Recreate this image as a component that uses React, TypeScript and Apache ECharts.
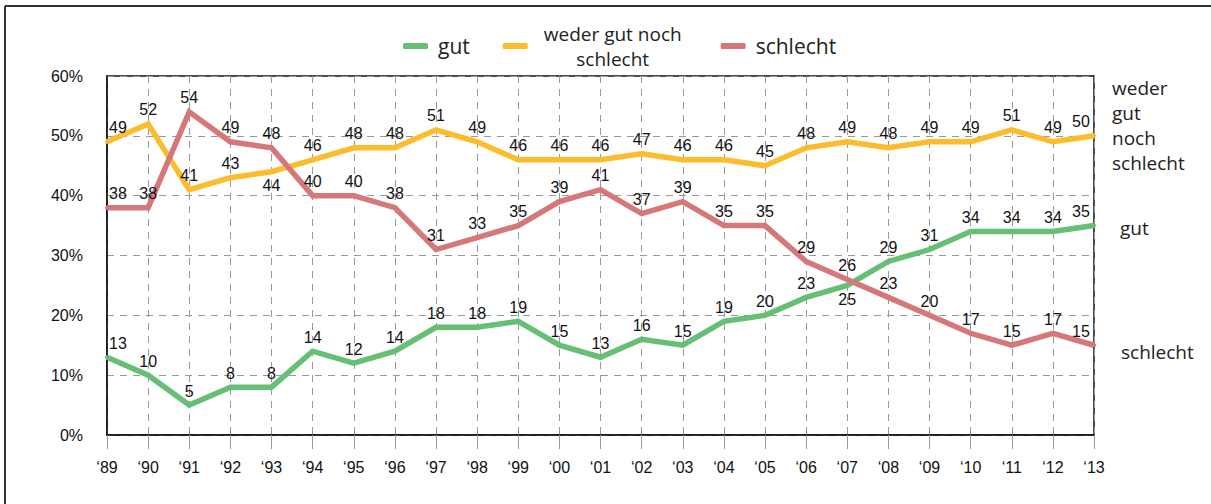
import React, { useEffect, useRef } from "react";
import * as echarts from "echarts";

const years = ["‘89","‘90","‘91","‘92","‘93","‘94","‘95","‘96","‘97","‘98","‘99","‘00","‘01","‘02","‘03","‘04","‘05","‘06","‘07","‘08","‘09","‘10","‘11","‘12","‘13"];
const gut = [13,10,5,8,8,14,12,14,18,18,19,15,13,16,15,19,20,23,25,29,31,34,34,34,35];
const weder = [49,52,41,43,44,46,48,48,51,49,46,46,46,47,46,46,45,48,49,48,49,49,51,49,50];
const schlecht = [38,38,54,49,48,40,40,38,31,33,35,39,41,37,39,35,35,29,26,23,20,17,15,17,15];

const names = ["gut", "weder gut noch schlecht", "schlecht"];
const colors = ["#67bf76", "#fbbd2b", "#d6777a"];

const FONT = "Liberation Sans, Arial, sans-serif";
const SANS = "Open Sans, Noto Sans, sans-serif";

function buildData(values: number[], below: number[]) {
  const last = values.length - 1;
  return values.map((v, i) => {
    const item: any = { value: v };
    const label: any = {};
    if (below.includes(i)) label.position = "bottom";
    if (i === 0) label.offset = [11, 0];
    if (i === last) label.offset = [-13, 0];
    if (Object.keys(label).length) item.label = label;
    return item;
  });
}

export default function App() {
  const ref = useRef<HTMLDivElement>(null);
  useEffect(() => {
    if (!ref.current) return;
    const chart = echarts.init(ref.current, null, { renderer: "svg" });
    const series = [
      { name: names[0], values: gut, below: [18], end: "gut", endOffset: [26, 2] },
      { name: names[1], values: weder, below: [4], end: "weder\ngut\nnoch\nschlecht", endOffset: [18, -10] },
      { name: names[2], values: schlecht, below: [], end: "schlecht", endOffset: [27, 7] },
    ].map((s, idx) => ({
      name: s.name,
      type: "line",
      data: buildData(s.values, s.below),
      color: colors[idx],
      symbol: "circle",
      symbolSize: 4,
      showSymbol: true,
      itemStyle: { color: colors[idx] },
      lineStyle: { width: 5.5, color: colors[idx], cap: "butt", join: "miter" },
      z: idx === 0 ? 3 : idx === 1 ? 4 : 5,
      label: {
        show: true,
        position: "top",
        distance: 4,
        color: "#111",
        fontFamily: FONT,
        fontSize: 16,
      },
      endLabel: {
        show: true,
        formatter: () => s.end,
        color: "#222",
        fontFamily: SANS,
        fontSize: 19,
        lineHeight: 25,
        distance: 0,
        offset: s.endOffset,
        align: "left",
      },
      emphasis: { disabled: true },
    }));

    chart.setOption({
      animation: false,
      backgroundColor: "#ffffff",
      grid: {
        left: 107,
        right: 117,
        top: 76,
        bottom: 69,
        show: true,
        borderColor: "#111",
        borderWidth: 1.5,
        backgroundColor: "transparent",
      },
      legend: {
        left: 398,
        top: 19,
        itemGap: 33,
        itemWidth: 25,
        itemHeight: 6,
        icon: "roundRect",
        data: names,
        formatter: (n: string) =>
          n === names[1] ? "{s|weder gut noch}\n{s|schlecht}" : n,
        textStyle: {
          fontFamily: SANS,
          fontSize: 21,
          color: "#222",
          padding: [0, 0, 0, 5],
          rich: {
            s: { fontFamily: SANS, fontSize: 19, lineHeight: 25, align: "center", color: "#222", padding: [0, 6, 0, 6] },
          },
        },
      },
      xAxis: {
        type: "category",
        data: years,
        boundaryGap: false,
        axisLine: { show: true, lineStyle: { color: "#111", width: 1.5 } },
        axisTick: { show: true, length: 14, lineStyle: { color: "#999", width: 1 } },
        axisLabel: { color: "#111", fontFamily: FONT, fontSize: 16, margin: 24 },
        splitLine: { show: true, lineStyle: { color: "#999", type: [7, 6], width: 1 } },
      },
      yAxis: {
        type: "value",
        min: 0,
        max: 60,
        interval: 10,
        axisLine: { show: true, lineStyle: { color: "#111", width: 1.5 } },
        axisTick: { show: false },
        axisLabel: { color: "#111", fontFamily: FONT, fontSize: 16, margin: 24, formatter: "{value}%" },
        splitLine: { show: true, lineStyle: { color: "#999", type: [7, 6], width: 1 } },
      },
      graphic: [
        { type: "line", shape: { x1: 5, y1: 6, x2: 1211, y2: 6 }, style: { stroke: "#333", lineWidth: 2 }, silent: true },
        { type: "line", shape: { x1: 5, y1: 6, x2: 5, y2: 504 }, style: { stroke: "#333", lineWidth: 2 }, silent: true },
      ],
      series,
    });
    return () => chart.dispose();
  }, []);
  return (
    <div
      ref={ref}
      style={{ position: "fixed", left: 0, top: 0, width: 1211, height: 504 }}
    />
  );
}
